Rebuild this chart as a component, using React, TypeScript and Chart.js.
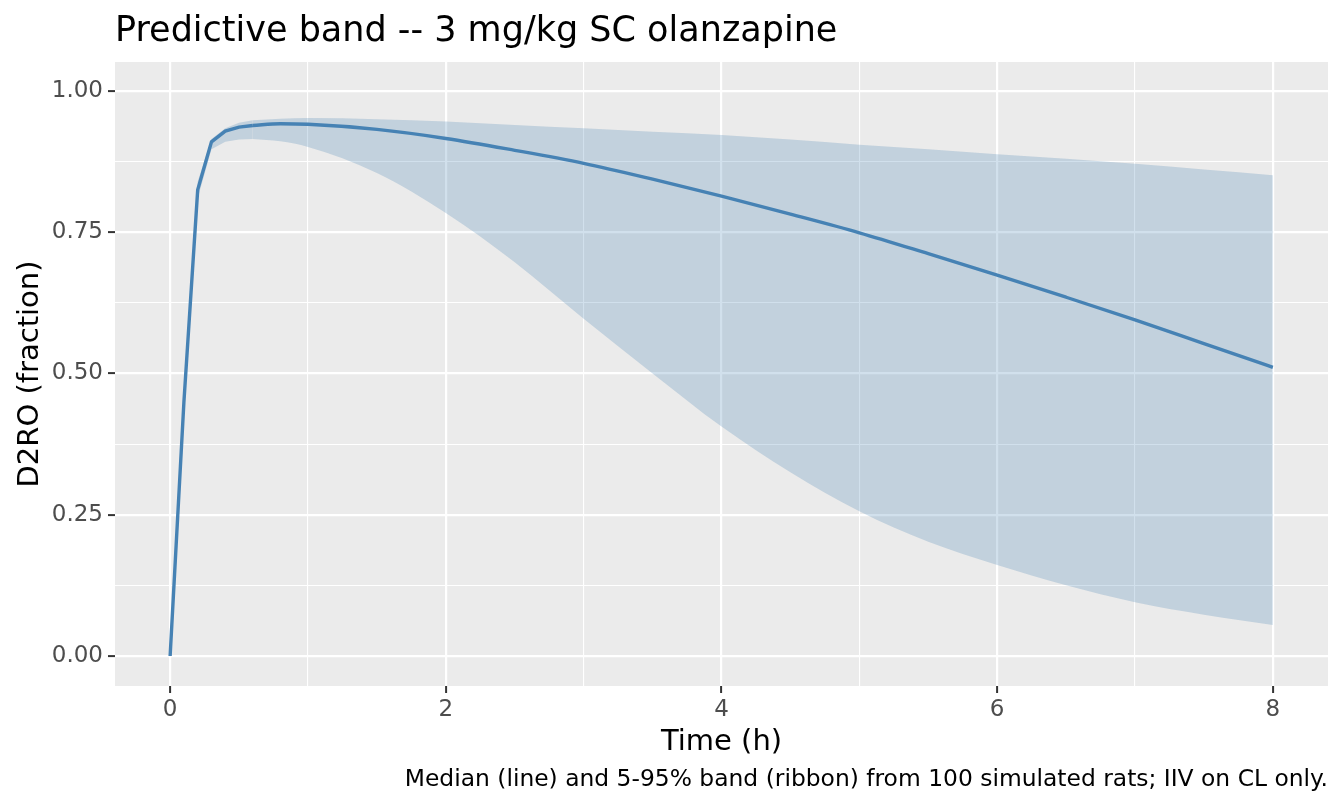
import React, { useEffect, useRef } from "react";
import { Chart, registerables } from "chart.js";

Chart.register(...registerables);

const TITLE = "Predictive band -- 3 mg/kg SC olanzapine";
const X_TITLE = "Time (h)";
const Y_TITLE = "D2RO (fraction)";
const CAPTION = "Median (line) and 5-95% band (ribbon) from 100 simulated rats; IIV on CL only.";

const times = [0, 0.1, 0.2, 0.3, 0.4, 0.5, 0.6, 0.8, 1, 1.5, 2, 2.5, 3, 3.5, 4, 4.5, 5, 5.5, 6, 6.5, 7, 7.5, 8];
const median = [0, 0.45, 0.825, 0.91, 0.929, 0.936, 0.939, 0.942, 0.941, 0.932, 0.916, 0.895, 0.872, 0.844, 0.814, 0.782, 0.749, 0.712, 0.674, 0.635, 0.595, 0.553, 0.511];
const upper = [0, 0.46, 0.84, 0.915, 0.934, 0.944, 0.948, 0.951, 0.952, 0.95, 0.946, 0.94, 0.934, 0.928, 0.922, 0.914, 0.905, 0.897, 0.888, 0.88, 0.871, 0.861, 0.851];
const lower = [0, 0.43, 0.81, 0.897, 0.91, 0.914, 0.915, 0.911, 0.901, 0.855, 0.784, 0.697, 0.597, 0.5, 0.406, 0.325, 0.256, 0.202, 0.161, 0.125, 0.095, 0.073, 0.055];

// early part (steep rise) drawn with straight segments, later part smooth
const SPLIT = 6;

const xTicks = [0, 1, 2, 3, 4, 5, 6, 7, 8];
const xMajor = [0, 2, 4, 6, 8];
const yTicks = [0, 0.125, 0.25, 0.375, 0.5, 0.625, 0.75, 0.875, 1];
const yMajor = [0, 0.25, 0.5, 0.75, 1];

const FONT = "'DejaVu Sans', sans-serif";
const LINE = "#4682B4";
const BAND = "rgba(70,130,180,0.25)";

const isMaj = (arr: number[], v: number) => arr.some((m) => Math.abs(m - v) < 1e-9);
const pts = (ys: number[], from: number, to: number) =>
  times.slice(from, to).map((t, i) => ({ x: t, y: ys[from + i] }));

export default function App() {
  const ref = useRef<HTMLCanvasElement | null>(null);
  useEffect(() => {
    document.body.style.margin = "0";
    const canvas = ref.current!;
    const bgPlugin = {
      id: "bg",
      beforeDraw(chart: any) {
        const { ctx, chartArea: a } = chart;
        ctx.save();
        ctx.fillStyle = "#FFFFFF";
        ctx.fillRect(0, 0, chart.width, chart.height);
        ctx.fillStyle = "#EBEBEB";
        ctx.fillRect(a.left, a.top, a.right - a.left, a.bottom - a.top);
        ctx.restore();
      },
      afterDraw(chart: any) {
        const { ctx, chartArea: a } = chart;
        ctx.save();
        ctx.fillStyle = "#000000";
        ctx.textBaseline = "alphabetic";
        ctx.font = `35px ${FONT}`;
        ctx.textAlign = "left";
        ctx.fillText(TITLE, a.left, 41);
        ctx.font = `29px ${FONT}`;
        ctx.textAlign = "center";
        ctx.fillText(X_TITLE, (a.left + a.right) / 2, 750);
        ctx.save();
        ctx.translate(38, (a.top + a.bottom) / 2);
        ctx.rotate(-Math.PI / 2);
        ctx.fillText(Y_TITLE, 0, 0);
        ctx.restore();
        ctx.font = `23.4px ${FONT}`;
        ctx.textAlign = "right";
        ctx.fillText(CAPTION, a.right, 786);
        ctx.restore();
      },
    };

    const n = times.length;
    const common = { pointRadius: 0 };
    const chart = new Chart(canvas, {
      type: "line",
      data: {
        datasets: [
          { ...common, label: "median-early", data: pts(median, 0, SPLIT + 1), borderColor: LINE, borderWidth: 3.4, fill: false, tension: 0, order: 0 },
          { ...common, label: "median-late", data: pts(median, SPLIT, n), borderColor: LINE, borderWidth: 3.4, fill: false, cubicInterpolationMode: "monotone", order: 0 },
          { ...common, label: "upper-early", data: pts(upper, 0, SPLIT + 1), borderWidth: 0, borderColor: "rgba(0,0,0,0)", backgroundColor: BAND, fill: "+1", tension: 0, order: 1 },
          { ...common, label: "lower-early", data: pts(lower, 0, SPLIT + 1), borderWidth: 0, borderColor: "rgba(0,0,0,0)", fill: false, tension: 0, order: 2 },
          { ...common, label: "upper-late", data: pts(upper, SPLIT, n), borderWidth: 0, borderColor: "rgba(0,0,0,0)", backgroundColor: BAND, fill: "+1", cubicInterpolationMode: "monotone", order: 1 },
          { ...common, label: "lower-late", data: pts(lower, SPLIT, n), borderWidth: 0, borderColor: "rgba(0,0,0,0)", fill: false, cubicInterpolationMode: "monotone", order: 2 },
        ],
      } as any,
      options: {
        responsive: false,
        animation: false,
        events: [],
        layout: { padding: { top: 62, right: 16, left: 0, bottom: 0 } },
        plugins: { legend: { display: false }, title: { display: false }, tooltip: { enabled: false } },
        scales: {
          x: {
            type: "linear",
            min: -0.4,
            max: 8.4,
            afterBuildTicks: (s: any) => {
              s.ticks = xTicks.map((v) => ({ value: v }));
            },
            afterFit: (s: any) => {
              s.height = 120;
            },
            border: { display: false },
            grid: {
              color: "#FFFFFF",
              lineWidth: (c: any) => (isMaj(xMajor, c.tick?.value) ? 2.2 : 1.1),
              tickColor: (c: any) => (isMaj(xMajor, c.tick?.value) ? "#333333" : "rgba(0,0,0,0)"),
              tickWidth: 2,
              tickLength: 7,
              drawTicks: true,
            },
            ticks: {
              autoSkip: false,
              maxRotation: 0,
              padding: 3,
              color: "#4D4D4D",
              font: { family: FONT, size: 23 },
              callback: (v: any) => (isMaj(xMajor, Number(v)) ? String(v) : ""),
            },
          },
          y: {
            type: "linear",
            min: -0.0531,
            max: 1.0513,
            afterBuildTicks: (s: any) => {
              s.ticks = yTicks.map((v) => ({ value: v }));
            },
            afterFit: (s: any) => {
              s.width = 115;
            },
            border: { display: false },
            grid: {
              color: "#FFFFFF",
              lineWidth: (c: any) => (isMaj(yMajor, c.tick?.value) ? 2.2 : 1.1),
              tickColor: (c: any) => (isMaj(yMajor, c.tick?.value) ? "#333333" : "rgba(0,0,0,0)"),
              tickWidth: 2,
              tickLength: 7,
              drawTicks: true,
            },
            ticks: {
              autoSkip: false,
              padding: 5,
              color: "#4D4D4D",
              font: { family: FONT, size: 23 },
              callback: (v: any) => (isMaj(yMajor, Number(v)) ? Number(v).toFixed(2) : ""),
            },
          },
        },
      } as any,
      plugins: [bgPlugin],
    });
    return () => chart.destroy();
  }, []);

  return (
    <div style={{ width: 1344, height: 806 }}>
      <canvas ref={ref} width={1344} height={806} style={{ display: "block" }} />
    </div>
  );
}
